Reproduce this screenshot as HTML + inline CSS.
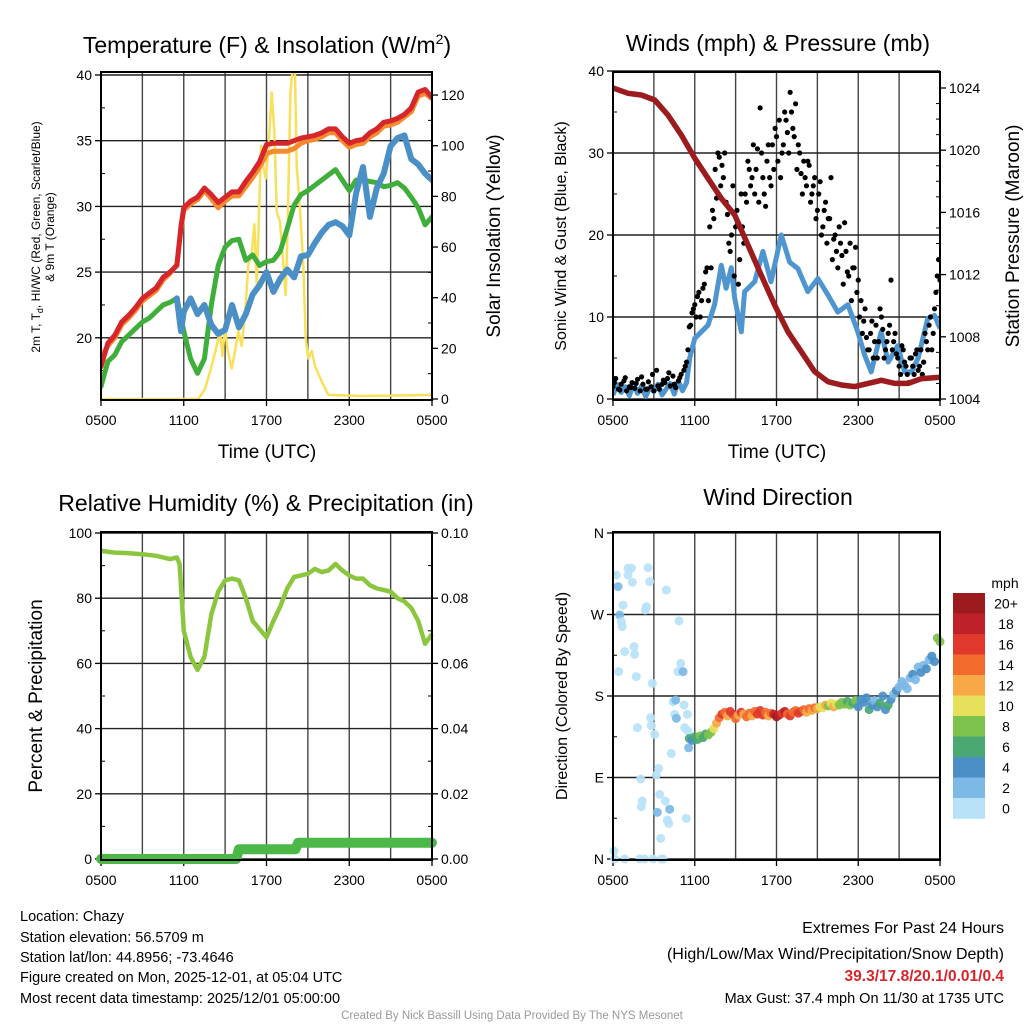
<!DOCTYPE html>
<html><head><meta charset="utf-8"><style>
body{margin:0;background:#fff}
svg{display:block;font-family:"Liberation Sans",sans-serif}
</style></head><body>
<svg id="c" width="1024" height="1024" viewBox="0 0 1024 1024">
<rect width="1024" height="1024" fill="#fff"/>
<g id="g1"></g>
<g id="g2"></g>
<g id="g3"></g>
<g id="g4"></g>
<g id="txt">
<text x="267" y="53" font-size="23" text-anchor="middle">Temperature (F) &amp; Insolation (W/m<tspan dy="-9" font-size="14">2</tspan><tspan dy="9">)</tspan></text>
<text x="778" y="51" font-size="23" text-anchor="middle">Winds (mph) &amp; Pressure (mb)</text>
<text x="266" y="511" font-size="23" text-anchor="middle">Relative Humidity (%) &amp; Precipitation (in)</text>
<text x="778" y="505" font-size="23" text-anchor="middle">Wind Direction</text>
<text x="267" y="458" font-size="19" text-anchor="middle">Time (UTC)</text>
<text x="777" y="458" font-size="19" text-anchor="middle">Time (UTC)</text>
<text transform="translate(40,237) rotate(-90)" font-size="12" text-anchor="middle">2m T, T<tspan font-size="9" dy="3">d</tspan><tspan dy="-3">, HI/WC (Red, Green, Scarlet/Blue)</tspan></text>
<text transform="translate(54,237) rotate(-90)" font-size="12" text-anchor="middle">&amp; 9m T (Orange)</text>
<text transform="translate(500,236) rotate(-90)" font-size="19" text-anchor="middle">Solar Insolation (Yellow)</text>
<text transform="translate(566,236) rotate(-90)" font-size="16" text-anchor="middle">Sonic Wind &amp; Gust (Blue, Black)</text>
<text transform="translate(1019,236) rotate(-90)" font-size="19" text-anchor="middle">Station Pressure (Maroon)</text>
<text transform="translate(42,696) rotate(-90)" font-size="19" text-anchor="middle">Percent &amp; Precipitation</text>
<text transform="translate(567,696) rotate(-90)" font-size="16" text-anchor="middle">Direction (Colored By Speed)</text>
<g font-size="14.5">
<text x="20" y="921">Location: Chazy</text>
<text x="20" y="942">Station elevation: 56.5709 m</text>
<text x="20" y="962">Station lat/lon: 44.8956; -73.4646</text>
<text x="20" y="982">Figure created on Mon, 2025-12-01, at 05:04 UTC</text>
<text x="20" y="1003">Most recent data timestamp: 2025/12/01 05:00:00</text>
</g>
<g text-anchor="end">
<text x="1004" y="933" font-size="16">Extremes For Past 24 Hours</text>
<text x="1004" y="959" font-size="16">(High/Low/Max Wind/Precipitation/Snow Depth)</text>
<text x="1004" y="981" font-size="15.5" font-weight="bold" fill="#d7262b">39.3/17.8/20.1/0.01/0.4</text>
<text x="1004" y="1003" font-size="14.5">Max Gust: 37.4 mph On 11/30 at 1735 UTC</text>
</g>
<text x="512" y="1019" font-size="11.5" fill="#999" text-anchor="middle">Created By Nick Bassill Using Data Provided By The NYS Mesonet</text>
</g>
</svg>
<script>
// ---- data ----
const xTickLabels = ["0500","1100","1700","2300","0500"];
const tHours = [0,0.5,1,1.5,2,2.5,3,3.5,4,4.5,5,5.5,5.8,6,6.5,7,7.5,8,8.5,9,9.5,10,10.5,11,11.5,12,12.5,13,13.5,14,14.5,15,15.5,16,16.5,17,17.5,18,18.5,19,19.5,20,20.5,21,21.5,22,22.5,23,23.5,24];
const tempF = [17.8,19.6,20.2,21.2,21.7,22.3,23.0,23.4,23.8,24.6,25.0,25.5,28.5,29.9,30.4,30.7,31.4,30.9,30.3,30.7,31.1,31.1,31.9,32.6,33.4,34.7,34.8,34.8,34.8,35.0,35.2,35.3,35.4,35.6,35.9,35.9,35.3,34.8,35.0,35.1,35.6,35.9,36.4,36.5,36.7,37.0,37.5,38.7,38.9,38.3];
const temp9mF = [18.5,19.4,20.0,21.0,21.5,22.1,22.8,23.2,23.6,24.4,24.9,25.6,28.3,29.7,30.2,30.5,31.2,30.6,29.9,30.4,30.8,30.8,31.5,32.2,33.0,34.0,34.2,34.2,34.2,34.4,34.8,35.0,35.1,35.3,35.6,35.6,35.0,34.5,34.7,34.8,35.3,35.6,36.1,36.2,36.4,36.8,37.2,38.4,38.6,38.2];
const dewF = [16.3,18.2,18.7,19.7,20.2,20.7,21.2,21.5,22.0,22.5,22.7,23.0,21.5,20.5,18.4,17.3,18.4,22.5,25.5,26.9,27.4,27.5,25.9,26.3,25.5,25.8,25.9,26.6,28.3,30.1,30.9,31.2,31.6,32.0,32.4,32.8,32.0,31.2,32.0,32.0,31.9,31.8,31.5,31.6,31.8,31.4,30.7,29.9,28.6,29.2];
const hiwcF = [null,null,null,null,null,null,null,null,null,null,null,23.0,20.5,22.0,23.0,21.8,22.5,21.0,20.3,20.6,22.5,20.8,21.8,23.3,24.0,25.0,23.5,24.5,25.2,24.6,26.2,26.3,27.2,28.0,28.6,28.8,28.5,27.8,31.0,33.0,29.2,31.4,32.5,34.6,35.2,35.4,33.6,33.2,32.5,32.0];
const solTimes = [0,7.06,7.54,8.02,8.39,8.63,8.8,8.99,9.19,9.48,9.72,9.96,10.2,10.44,10.68,10.93,11.12,11.29,11.46,11.6,11.77,11.94,12.13,12.38,12.57,12.74,12.98,13.22,13.39,13.54,13.73,13.87,14.07,14.19,14.43,14.67,14.84,15.03,15.28,15.52,16.0,16.48,18.9,24];
const solar = [0,0,4,13,21,27,17,28,19,12,19,27,21,33,53,57,69,45,74,100,92,87,98,121,105,74,70,53,41,69,121,129,129,92,75,53,24,16,19,13,7,1.6,1.2,1.6];
const windTimes = [0,0.3,0.6,0.9,1.2,1.5,1.8,2.1,2.4,2.7,3.0,3.3,3.6,3.9,4.2,4.5,4.8,5.1,5.4,5.63,6.0,6.97,7.46,7.95,8.3,8.68,8.93,9.42,9.66,10.4,11.0,11.6,12.35,12.96,13.57,14.3,15.04,15.77,16.5,17.24,17.97,18.46,18.95,19.68,20.2,20.9,21.4,21.9,22.4,23.1,23.6,24];
const sonicWind = [0.5,1.8,0.8,1.5,0.4,1.9,0.7,1.6,0.3,1.4,0.9,1.8,0.5,1.2,1.9,0.6,2.2,1.0,2.0,5.0,7.4,9.0,11.5,16.3,13.5,16.0,12.3,8.2,13.1,14.3,18.0,14.3,20.0,16.7,15.9,13.1,14.7,12.7,10.6,11.5,8.2,5.4,3.3,8.2,4.5,6.5,3.3,3.3,5.0,9.8,10.2,8.6];
const gustTimes = [0,0.2,0.4,0.6,0.8,1,1.2,1.4,1.6,1.8,2,2.2,2.4,2.6,2.8,3,3.2,3.4,3.6,3.8,4,4.2,4.4,4.6,4.8,5,5.2,5.4,5.6,5.8,6,6.2,6.4,6.6,6.8,7,7.2,7.4,7.6,7.8,8,8.2,8.4,8.6,8.8,9,9.2,9.4,9.6,9.8,10,10.2,10.4,10.6,10.8,11,11.2,11.4,11.6,11.8,12,12.2,12.4,12.6,12.8,13,13.2,13.4,13.6,13.8,14,14.2,14.4,14.6,14.8,15,15.2,15.4,15.6,15.8,16,16.2,16.4,16.6,16.8,17,17.2,17.4,17.6,17.8,18,18.2,18.4,18.6,18.8,19,19.2,19.4,19.6,19.8,20,20.2,20.4,20.6,20.8,21,21.2,21.4,21.6,21.8,22,22.2,22.4,22.6,22.8,23,23.2,23.4,23.6,23.8,24];
const gusts = [1.5,2.5,1.2,1.8,2.2,1.0,1.5,2.0,1.3,2.4,1.0,1.8,1.2,2.1,1.5,1.0,3.5,1.2,1.8,2.0,2.5,1.6,2.8,1.4,2.2,3.0,3.5,4.5,8.8,10.5,11.5,12.5,10.0,13.5,15.5,12.0,16.0,22.0,24.5,29.5,28.5,30.0,22.5,18.0,26.0,21.0,14.0,25.0,19.0,24.0,28.0,27.0,25.0,30.5,35.5,27.0,23.5,31.0,26.0,28.0,32.0,34.0,30.0,35.0,32.5,37.4,33.0,36.0,31.0,27.5,29.0,26.0,28.5,25.0,27.0,23.0,26.5,21.0,24.0,22.0,27.0,19.5,18.0,21.0,17.5,21.5,15.5,19.0,16.0,18.5,14.5,12.0,9.5,7.5,6.0,9.5,7.0,5.0,11.0,8.5,6.0,8.0,14.5,7.0,5.5,4.0,6.5,4.5,3.0,5.0,4.0,5.5,3.5,6.0,4.5,7.0,9.0,6.0,11.0,15.0,14.5];
const gustTimes2 = [0.1,0.5,0.9,1.3,1.7,2.1,2.5,2.9,3.3,3.7,4.1,4.5,4.9,5.3,5.5,5.7,5.9,6.1,6.3,6.5,6.7,6.9,7.1,7.3,7.5,7.7,7.9,8.1,8.3,8.5,8.7,8.9,9.1,9.3,9.5,9.7,9.9,10.1,10.3,10.5,10.7,10.9,11.1,11.3,11.5,11.7,11.9,12.1,12.3,12.5,12.7,12.9,13.1,13.3,13.5,13.7,13.9,14.1,14.3,14.5,14.7,14.9,15.1,15.3,15.5,15.7,15.9,16.1,16.3,16.5,16.7,16.9,17.1,17.3,17.5,17.7,17.9,18.1,18.3,18.5,18.7,18.9,19.1,19.3,19.5,19.7,19.9,20.1,20.3,20.5,20.7,20.9,21.1,21.3,21.5,21.7,21.9,22.1,22.3,22.5,22.7,22.9,23.1,23.3,23.5,23.7,23.9];
const gusts2 = [2.0,1.1,2.6,1.4,1.9,2.7,1.2,3.0,1.6,2.3,3.2,1.8,2.6,4.0,6,9,11,10,13,12,14,16,21,23,28,30,26,27,24,19,20,15,23,17,21,25,29,26,31,28,24,30,25,29,27,31,33,29,27,31,34,30,35,32,28,30,25,27,29,24,26,22,25,20,23,19,22,17,20,16,19,14,18,15,12,16,13,10,8,11,6,8,5,9,7,10,5,7,9,6,8,5,3,6,4,2,5,3,6,4,3,8,6,10,8,13,17];
const presTimes = [0,1.1,2.08,3.06,4.04,5.01,6.0,6.97,7.95,8.93,9.91,10.88,11.87,12.84,13.82,14.8,15.78,16.76,17.74,18.72,19.7,20.7,21.66,22.6,24];
const pressure = [1024.0,1023.66,1023.55,1023.23,1022.26,1020.98,1019.48,1018.19,1016.9,1015.83,1013.9,1011.97,1010.04,1008.33,1007.04,1005.76,1005.11,1004.9,1004.8,1005.0,1005.2,1005.0,1005.0,1005.3,1005.4];
const rhTimes = [0,1,2,3,4,5,5.5,5.7,6,6.5,7,7.5,8,8.5,9,9.5,10,10.5,11,11.5,12,12.5,13,13.5,14,14.5,15,15.5,16,16.5,17,17.5,18,18.5,19,19.5,20,20.5,21,21.5,22,22.5,23,23.5,24];
const rh = [94.5,94.0,93.8,93.5,93.0,92.0,92.5,90.5,70,62,58,62,75,82,85.5,86,85.5,80,73,70.5,68,73,77.5,83,86.5,87,87.5,89,88,88.5,90.5,88.5,87,86,86,84,83,82.5,82,80,79,77,73,66,69];
const precipTimes = [0,9.8,10.0,14.1,14.3,24];
const precip = [0,0,0.003,0.003,0.005,0.005];
const dirTimes = [0.24,0.37,0.73,0.49,0.61,0.68,0.86,0.42,1.1,1.35,1.1,1.42,1.54,1.59,1.71,1.79,2.03,2.08,2.15,2.37,2.45,2.57,2.69,2.76,2.81,2.89,3.06,3.18,3.25,3.35,3.43,3.5,3.67,3.84,3.91,3.99,4.09,4.16,4.28,4.4,4.53,4.65,4.6,4.77,4.84,4.97,5.14,5.21,5.26,5.38,5.46,5.5,5.55,0.07,0.12,0.86,1.96,2.33,2.94,3.55,
5.6,5.8,6.0,6.2,6.4,6.6,6.8,7.0,7.2,7.4,7.6,7.8,8.0,8.2,8.4,8.6,8.8,9.0,9.2,9.4,9.6,9.8,10.0,10.2,10.4,10.6,10.8,11.0,11.2,11.4,11.6,11.8,12.0,12.2,12.4,12.6,12.8,13.0,13.2,13.4,13.6,13.8,14.0,14.2,14.4,14.6,14.8,15.0,15.2,15.4,15.6,15.8,16.0,16.2,16.4,16.6,16.8,17.0,17.2,17.4,17.6,17.8,18.0,18.2,18.4,18.6,18.8,19.0,19.2,19.4,19.6,19.8,20.0,20.2,20.4,20.6,20.8,21.0,21.2,21.4,21.6,21.8,22.0,22.2,22.4,22.6,22.8,23.0,23.2,23.4,23.6,23.8,24.0];
const dirDeg = [313.6,300.8,280.4,269.4,262,256.5,229,206.9,321,321,313.6,305.5,234.5,226,201.4,145,88.3,57.7,64,275,278.6,321.7,306.3,156,147.3,194,137.6,92.7,51.5,100,71.3,22.8,0,64,297,42.9,39.2,55,116.6,173.7,159.7,155.3,175.5,206.9,263,216,206.9,170,145,44.8,159.7,141.3,122.8,8.8,0,0,0,0,0,0,
133,131,135,132,136,134,138,137,140,144,150,156,160,162,158,163,160,155,159,162,160,157,161,158,163,160,164,159,162,158,161,160,157,159,161,163,160,158,162,164,161,163,165,162,166,164,167,166,168,167,170,169,172,168,171,170,173,171,174,170,172,175,168,176,173,178,165,170,175,168,172,180,165,170,176,182,186,190,196,192,188,200,204,198,212,206,214,210,220,224,218,244,240];
const dirSpeed = [1,3,1,3,1,1,1,1,1,1,1,1,1,1,1,1,1,1,1,1,1,1,1,1,1,1,1,1,3,1,1,1,1,1,1,1,1,3,1,1,1,3,3,1,1,1,3,1,1,1,1,1,2,1,1,1,1,1,1,1,
6,5,7,6,8,7,6,8,9,10,12,14,16,15,13,16,17,14,12,16,13,14,15,12,14,16,17,16,14,13,15,18,20,19,17,18,15,16,14,15,17,16,14,13,15,12,14,13,11,10,12,9,10,12,11,8,9,8,7,9,6,8,4,4,5,4,6,4,3,5,6,4,5,6,4,3,4,3,2,3,2,2,4,2,3,4,2,4,3,4,4,8,9];
const colorLevels = ["0","2","4","6","8","10","12","14","16","18","20+"];
const colorHex = ["#b8e2f8","#7cb9e6","#4a8fc6","#4aa872","#7dc24c","#e6e05a","#f9a848","#f26a2d","#e0392b","#c0202a","#9b1b1e"];

// ---- helpers ----
const NS="http://www.w3.org/2000/svg";
function mk(parent,tag,attrs){const e=document.createElementNS(NS,tag);for(const k in attrs)e.setAttribute(k,attrs[k]);parent.appendChild(e);return e;}
function txt(parent,x,y,s,anchor,size){const e=mk(parent,'text',{x:x,y:y,'font-size':size||14,'text-anchor':anchor||'middle'});e.textContent=s;return e;}
function pathFrom(xs,ys,xf,yf){let d='',pen=false;for(let i=0;i<xs.length;i++){if(ys[i]===null){pen=false;continue;}d+=(pen?'L':'M')+xf(xs[i]).toFixed(1)+','+yf(ys[i]).toFixed(1);pen=true;}return d;}

function frame(g,L,R,T,B,leftTicks,leftFn,leftLabels,rightTicks,rightFn,rightLabels,leftMinor,rightMinor){
  const xf=h=>L+(R-L)*h/24;
  for(let h=0;h<=24;h+=3){const l=mk(g,'line',{x1:xf(h),x2:xf(h),y1:T,y2:B,stroke:'#444','stroke-width':1.4});
    
    }
  leftTicks.forEach(v=>{const y=leftFn(v);const l=mk(g,'line',{x1:L,x2:R,y1:y,y2:y,stroke:'#222','stroke-width':1.4});
    
    });
  leftTicks.forEach((v,i)=>{const y=leftFn(v);mk(g,'line',{x1:L-6,x2:L,y1:y,y2:y,stroke:'#000','stroke-width':1.3});const t=txt(g,L-9,y+5,leftLabels[i],'end',14);
    
    });
  (leftMinor||[]).forEach(v=>{const y=leftFn(v);mk(g,'line',{x1:L,x2:L+4,y1:y,y2:y,stroke:'#000','stroke-width':1});});
  rightTicks.forEach((v,i)=>{const y=rightFn(v);mk(g,'line',{x1:R,x2:R+6,y1:y,y2:y,stroke:'#000','stroke-width':1.3});const t=txt(g,R+9,y+5,rightLabels[i],'start',14);
    
    });
  (rightMinor||[]).forEach(v=>{const y=rightFn(v);mk(g,'line',{x1:R-4,x2:R,y1:y,y2:y,stroke:'#000','stroke-width':1});});
  for(let i=0;i<xTickLabels.length;i++){const h=i*6;mk(g,'line',{x1:xf(h),x2:xf(h),y1:B,y2:B+6,stroke:'#000','stroke-width':1.3});
    const t=txt(g,xf(h),B+25,xTickLabels[i],'middle',14);
    
    }
  return xf;
}
function border(g,L,R,T,B){const r=mk(g,'rect',{x:L,y:T,width:R-L,height:B-T,fill:'none',stroke:'#000','stroke-width':2});
  
  }

// ---- panel 1 ----
(function(){
  const g=document.getElementById('g1');const L=101,R=432,T=72,B=400;
  const yL=v=>75+(40-v)*13.14, yR=v=>399-v*2.533;
  const xf=frame(g,L,R,T,B,[20,25,30,35,40],yL,["20","25","30","35","40"],[0,20,40,60,80,100,120],yR,["0","20","40","60","80","100","120"],[17.5,22.5,27.5,32.5,37.5],[10,30,50,70,90,110]);
  const cp=mk(g,'clipPath',{id:'cp1'});mk(cp,'rect',{x:L,y:T,width:R-L,height:B-T});
  const pg=mk(g,'g',{'clip-path':'url(#cp1)'});
  const s=(arrX,arrY,yf,col,w,name)=>{const p=mk(pg,'path',{d:pathFrom(arrX,arrY,xf,yf),fill:'none',stroke:col,'stroke-width':w,'stroke-linejoin':'round','stroke-linecap':'round'});
    
    };
  s(solTimes,solar,yR,'#f8e05a',2.5,'solar-insolation-line');
  s(tHours,dewF,yL,'#3fae3a',5,'dewpoint-line');
  s(tHours,hiwcF,yL,'#4a8fc6',6,'heat-index-wind-chill-line');
  s(tHours,temp9mF,yL,'#f58a2e',5,'temp-9m-line');
  s(tHours,tempF,yL,'#d7262b',5,'temp-2m-line');
  border(g,L,R,T,B);
})();

// ---- panel 2 ----
(function(){
  const g=document.getElementById('g2');const L=613,R=940,T=72,B=400;
  const yL=v=>399-v*8.2, yR=v=>399-(v-1004)*15.55;
  const xf=frame(g,L,R,T,B,[0,10,20,30,40],yL,["0","10","20","30","40"],[1004,1008,1012,1016,1020,1024],yR,["1004","1008","1012","1016","1020","1024"],[5,15,25,35],[1005,1006,1007,1009,1010,1011,1013,1014,1015,1017,1018,1019,1021,1022,1023]);
  const cp=mk(g,'clipPath',{id:'cp2'});mk(cp,'rect',{x:L,y:T,width:R-L,height:B-T});
  const pg=mk(g,'g',{'clip-path':'url(#cp2)'});
  const w=mk(pg,'path',{d:pathFrom(windTimes,sonicWind,xf,yL),fill:'none',stroke:'#4f96d0','stroke-width':5,'stroke-linejoin':'round'});
  
  
  gustTimes.forEach((t,i)=>{const c=mk(pg,'circle',{cx:xf(t),cy:yL(gusts[i]),r:2.6,fill:'#000'});
    
    });
  gustTimes2.forEach((t,i)=>{const c=mk(pg,'circle',{cx:xf(t),cy:yL(gusts2[i]),r:2.6,fill:'#000'});
    
    });
  const p=mk(pg,'path',{d:pathFrom(presTimes,pressure,xf,yR),fill:'none',stroke:'#9b1b1e','stroke-width':5.5,'stroke-linejoin':'round','stroke-linecap':'round'});
  
  
  border(g,L,R,T,B);
})();

// ---- panel 3 ----
(function(){
  const g=document.getElementById('g3');const L=101,R=432,T=532,B=860;
  const yL=v=>859-v*3.26, yR=v=>859-v*3260;
  const xf=frame(g,L,R,T,B,[0,20,40,60,80,100],yL,["0","20","40","60","80","100"],[0,0.02,0.04,0.06,0.08,0.10],yR,["0.00","0.02","0.04","0.06","0.08","0.10"],[10,30,50,70,90],[0.01,0.03,0.05,0.07,0.09]);
  const pr=mk(g,'path',{d:pathFrom(precipTimes,precip,xf,yR),fill:'none',stroke:'#4cb848','stroke-width':10,'stroke-linejoin':'round','stroke-linecap':'round'});
  
  
  const r=mk(g,'path',{d:pathFrom(rhTimes,rh,xf,yL),fill:'none',stroke:'#8cc63f','stroke-width':4.5,'stroke-linejoin':'round'});
  
  
  border(g,L,R,T,B);
})();

// ---- panel 4 ----
(function(){
  const g=document.getElementById('g4');const L=613,R=940,T=532,B=860;
  const yL=v=>859-v*0.9056;
  const xf=frame(g,L,R,T,B,[0,90,180,270,360],yL,["N","E","S","W","N"],[],yL,[],[45,135,225,315],[]);
  const colorFor=s=>colorHex[Math.min(10,Math.max(0,Math.floor(s/2)))];
  dirTimes.forEach((t,i)=>{const c=mk(g,'circle',{cx:xf(t),cy:yL(dirDeg[i]),r:4.5,fill:colorFor(dirSpeed[i]),'fill-opacity':0.92});
    
    });
  border(g,L,R,T,B);
  const cb=mk(g,'g',{});
  
  
  const top=593,bh=20.5;
  txt(cb,1005,588,'mph','middle',14);
  colorLevels.forEach((lab,i)=>{const k=colorLevels.length-1-i;const y=top+i*bh;
    const r=mk(cb,'rect',{x:953,y:y,width:32,height:bh+0.3,fill:colorHex[k]});
    
    
    txt(cb,1006,y+bh/2+5,colorLevels[k],'middle',14);});
})();
</script>
</body></html>
